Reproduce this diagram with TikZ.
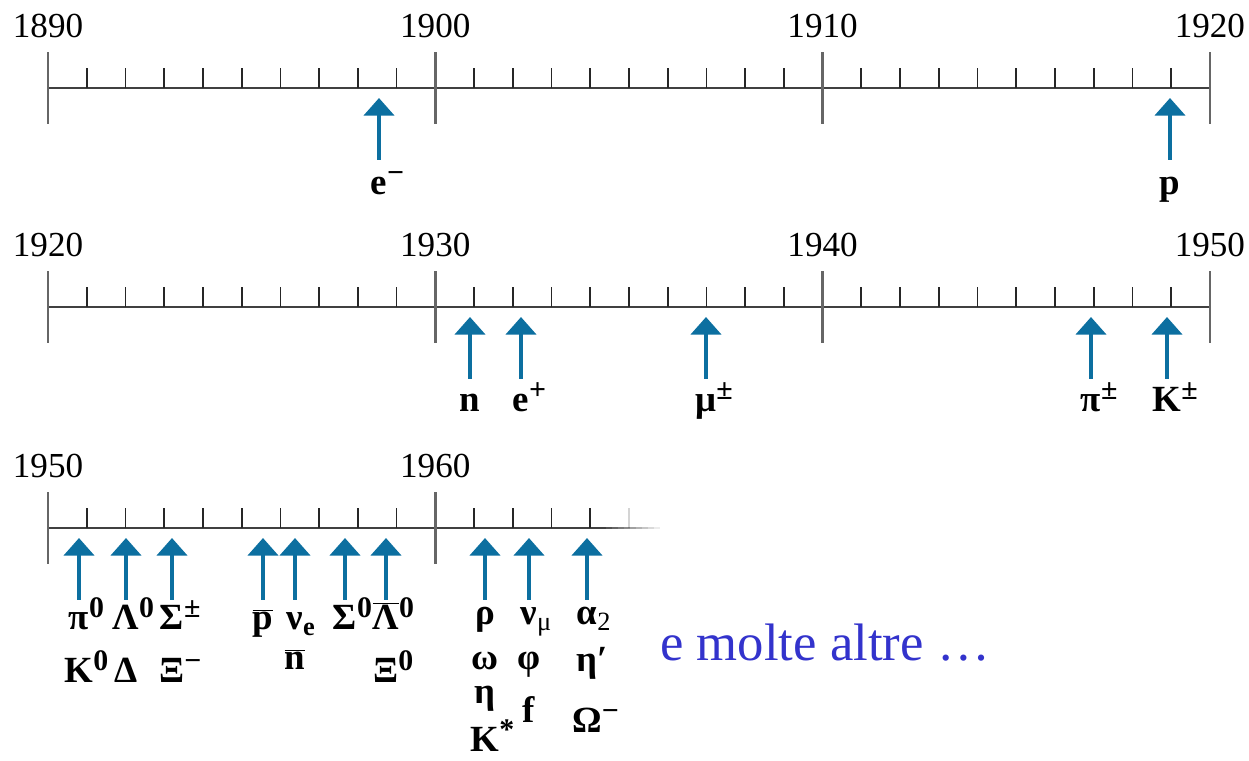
\documentclass[tikz,border=0pt]{standalone}
\usepackage{xcolor}
\usepackage{fontspec}
\setmainfont{Liberation Serif}
\usetikzlibrary{arrows.meta}

\definecolor{arrowblue}{RGB}{12,111,160}
\definecolor{noteblue}{RGB}{51,51,204}

\tikzset{
  axisline/.style={line width=1.4pt, black!75},
  decadetick/.style={line width=1.6pt, black!60},
  yeartick/.style={line width=1pt, black!85},
  found/.style={arrowblue, line width=2.8pt, -{Triangle[length=10pt,width=17pt]}},
  yearlabel/.style={font=\fontsize{20}{24}\selectfont, anchor=base, inner sep=0pt},
  particle/.style={font=\bfseries\fontsize{21}{24}\selectfont, anchor=base, inner sep=0pt},
}
\newcommand{\sups}[1]{\rlap{\raisebox{0.75ex}{\fontsize{17}{17}\selectfont #1}}}
\newcommand{\subs}[1]{\rlap{\raisebox{-0.35ex}{\fontsize{15}{15}\selectfont #1}}}
\newcommand{\bard}[1]{$\overline{\mbox{#1}}$}

\begin{document}
\begin{tikzpicture}[x=0.02cm, y=0.02cm]
  \useasboundingbox (0,0) rectangle (1249,761);

  % two full time lines, 1890-1920 and 1920-1950
  \foreach \row/\ly/\first in {1/673/1890, 2/454/1920} {
    \draw[axisline] (48,\ly) -- (1210,\ly);
    \foreach \i in {1,...,29}
      \draw[yeartick] ({48+38.73*\i},\ly) -- ++(0,20);
    \foreach \k [evaluate=\k as \yr using int(\first+10*\k)] in {0,...,3} {
      \draw[decadetick] ({48+387.3*\k},{\ly-36}) -- ++(0,72);
      \node[yearlabel] (year\row-\k) at ({48+387.3*\k},{\ly+50}) {\yr};
    }
  }

  % last line, fading out after 1964
  \draw[axisline] (48,233) -- (600,233);
  \foreach \k [evaluate=\k as \op using 1-0.1*\k] in {0,...,9}
    \draw[axisline, draw opacity=\op] ({600+6*\k},233) -- ({606+6*\k},233);
  \foreach \i in {1,...,14}
    \draw[yeartick] ({48+38.73*\i},233) -- ++(0,20);
  \draw[yeartick, draw opacity=0.2] ({48+38.73*15},233) -- ++(0,20);
  \draw[decadetick] (48,197) -- ++(0,72);
  \draw[decadetick] (435.3,197) -- ++(0,72);
  \node[yearlabel] (year3-0) at (48,283) {1950};
  \node[yearlabel] (year3-1) at (435.3,283) {1960};

  % arrows
  \foreach \x/\nm in {379/elec, 1170/prot} {
    \coordinate (\nm-tail) at (\x,601);
    \coordinate (\nm-tip) at (\x,663);
    \draw[found] (\nm-tail) -- (\nm-tip);
  }
  \foreach \x/\nm in {470/neut, 521/posi, 706/muon, 1091/pion, 1167/kaon} {
    \coordinate (\nm-tail) at (\x,382);
    \coordinate (\nm-tip) at (\x,444);
    \draw[found] (\nm-tail) -- (\nm-tip);
  }
  \foreach \x/\nm in {79/c1, 126/c2, 172/c3, 263/c4, 295/c5, 345/c6, 386/c7,
                      485/c8, 529/c9, 587/c10} {
    \coordinate (\nm-tail) at (\x,161);
    \coordinate (\nm-tip) at (\x,223);
    \draw[found] (\nm-tail) -- (\nm-tip);
  }

  % particles
  \node[particle] (elec) at (379,566) {e\sups{−}};
  \node[particle] (prot) at (1170,566) {p};

  \node[particle] (neut) at (470,349) {n};
  \node[particle] (posi) at (521,349) {e\sups{+}};
  \node[particle] (muon) at (706,349) {μ\sups{±}};
  \node[particle] (pion) at (1091,349) {π\sups{±}};
  \node[particle] (kaon) at (1167,349) {K\sups{±}};

  \node[particle] (pizero) at (79,131) {π\sups{0}};
  \node[particle] (kzero) at (79,78) {K\sups{0}};
  \node[particle] (lambda) at (126,131) {Λ\sups{0}};
  \node[particle] (delta) at (126,78) {Δ};
  \node[particle] (sigma) at (172,131) {Σ\sups{±}};
  \node[particle] (ximin) at (172,78) {Ξ\sups{−}};
  \node[particle] (pbar) at (263,131) {\bard{p}};
  \node[particle] (nue) at (295,131) {ν\subs{e}};
  \node[particle] (nbar) at (295,91) {\bard{n}};
  \node[particle] (sigzero) at (345,131) {Σ\sups{0}};
  \node[particle] (lambar) at (386,131) {\bard{Λ}\sups{0}};
  \node[particle] (xizero) at (386,78) {Ξ\sups{0}};

  \node[particle] (rho) at (485,136) {ρ};
  \node[particle] (omega) at (485,91) {ω};
  \node[particle] (eta) at (485,57) {η};
  \node[particle] (kstar) at (485,9) {K\sups{*}};
  \node[particle] (numu) at (529,136) {ν\subs{\mdseries μ}};
  \node[particle] (phi) at (529,91) {φ};
  \node[particle] (fmes) at (529,38) {f};
  \node[particle] (atwo) at (587,136) {α\subs{\mdseries 2}};
  \node[particle] (etap) at (587,89) {η\rlap{′}};
  \node[particle] (omegam) at (587,28) {Ω\sups{−}};

  \node[anchor=base west, inner sep=0pt, font=\fontsize{30}{34}\selectfont,
        text=noteblue] (altre) at (660,100) {e molte altre …};
\end{tikzpicture}
\end{document}
